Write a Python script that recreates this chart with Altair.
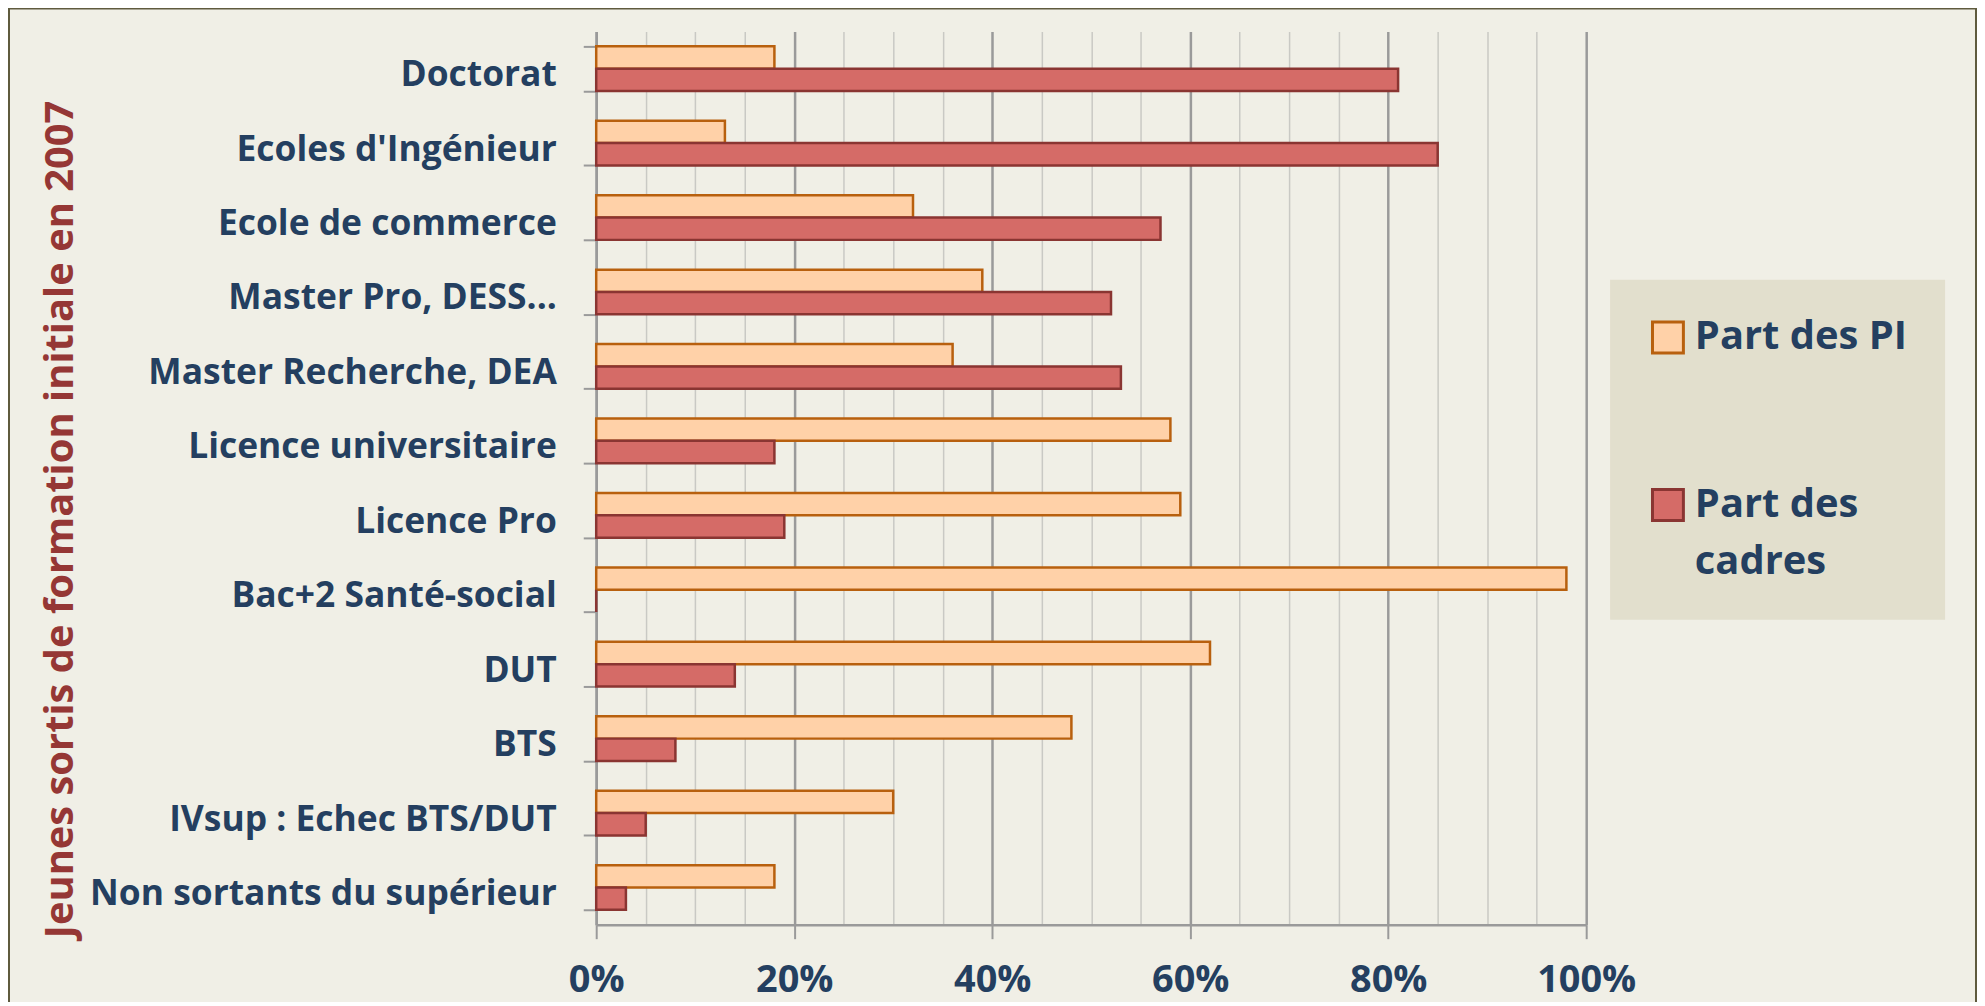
import altair as alt
import pandas as pd

categories = [
    "Doctorat", "Ecoles d'Ingénieur", "Ecole de commerce", "Master Pro, DESS...",
    "Master Recherche, DEA", "Licence universitaire", "Licence Pro",
    "Bac+2 Santé-social", "DUT", "BTS", "IVsup : Echec BTS/DUT",
    "Non sortants du supérieur",
]
part_pi = [18, 13, 32, 39, 36, 58, 59, 98, 62, 48, 30, 18]
part_cadres = [81, 85, 57, 52, 53, 18, 19, 0, 14, 8, 5, 3]
series_names = ["Part des PI", "Part des cadres"]
x_ticks = list(range(0, 101, 5))
y_title = "Jeunes sortis de formation initiale en 2007"

rows = []
for c, a, b in zip(categories, part_pi, part_cadres):
    rows.append({"cat": c, "serie": series_names[0], "value": a})
    rows.append({"cat": c, "serie": series_names[1], "value": b})
df = pd.DataFrame(rows)

W, H = 993, 896
FONT = "Open Sans"
NAVY = "#243f60"
GRID_MAJOR = "#9a9a9a"
GRID_MINOR = "#c9c9c4"
BG = "#f0efe6"

fill_scale = alt.Scale(domain=series_names, range=["#ffd1a8", "#d56b67"])
stroke_scale = alt.Scale(domain=series_names, range=["#b8600e", "#8a3532"])

legend = alt.Legend(
    title=None, orient="none", legendX=1017, legendY=249,
    fillColor="#e2dfcd", padding=38,
    symbolType="square", symbolSize=961, symbolStrokeWidth=3, symbolOpacity=1,
    labelFont=FONT, labelFontSize=40, labelFontWeight="bold", labelColor=NAVY,
    labelOffset=7, labelLimit=0, rowPadding=124,
    labelExpr="datum.label == 'Part des cadres' ? ['Part des', 'cadres'] : datum.label",
)

major = "datum.value % 20 == 0"

bars = alt.Chart(df).mark_bar(strokeWidth=2.5, opacity=1).encode(
    y=alt.Y(
        "cat:N", sort=categories,
        scale=alt.Scale(paddingInner=0.4, paddingOuter=0.2),
        axis=alt.Axis(
            title=y_title, titleFont=FONT, titleFontSize=40, titleFontWeight="bold",
            titleColor="#953735", titleAngle=270, titleX=-537, titleY=489,
            titleAlign="center", titleBaseline="middle",
            labelFont=FONT, labelFontSize=35.5, labelFontWeight="bold", labelColor=NAVY,
            labelPadding=27, labelLimit=0, labelOffset=6,
            tickSize=13, tickColor=GRID_MAJOR, tickWidth=2, tickBand="extent",
            domainColor=GRID_MAJOR, domainWidth=2.5, grid=False,
        ),
    ),
    yOffset=alt.YOffset("serie:N", sort=series_names,
                        scale=alt.Scale(paddingInner=0, paddingOuter=0)),
    x=alt.X(
        "value:Q", scale=alt.Scale(domain=[0, 100], nice=False),
        axis=alt.Axis(
            values=x_ticks, title=None,
            labelExpr="datum.value % 20 == 0 ? datum.value + '%' : ''",
            labelFont=FONT, labelFontSize=38, labelFontWeight="bold", labelColor=NAVY,
            labelPadding=23, labelFlush=False, labelOverlap=False,
            grid=True,
            gridColor={"condition": {"test": major, "value": GRID_MAJOR}, "value": GRID_MINOR},
            gridWidth={"condition": {"test": major, "value": 2.5}, "value": 1.5},
            tickColor={"condition": {"test": major, "value": GRID_MAJOR}, "value": "transparent"},
            tickSize=14, tickWidth=2,
            domainColor=GRID_MAJOR, domainWidth=2.5,
        ),
    ),
    fill=alt.Fill("serie:N", scale=fill_scale, legend=legend),
    stroke=alt.Stroke("serie:N", scale=stroke_scale, legend=legend),
)

frame = alt.Chart(pd.DataFrame({"a": [0]})).mark_rect(
    fill="transparent", stroke="#5f5b3e", strokeWidth=2
).encode(
    x=alt.value(-589), x2=alt.value(1384), y=alt.value(-23), y2=alt.value(2000)
)

chart = alt.layer(frame, bars).properties(
    width=W, height=H,
    autosize=alt.AutoSizeParams(type="none"),
    padding={"left": 590, "top": 22, "right": 392, "bottom": 76},
    background=BG,
).configure(style={"guide-label": {"lineHeight": 57}}).configure_view(strokeOpacity=0)

chart.save("out.html", embed_options={"renderer": "svg", "actions": False})
